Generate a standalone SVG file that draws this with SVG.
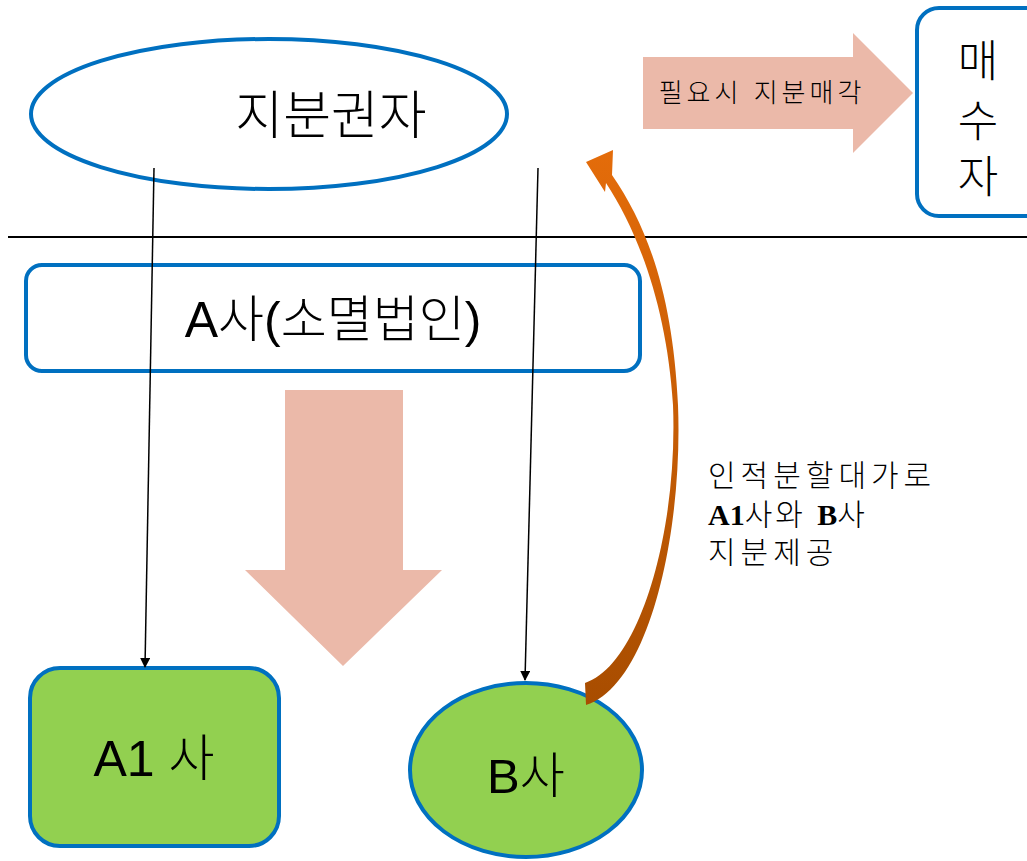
<svg xmlns="http://www.w3.org/2000/svg" width="1027" height="861" viewBox="0 0 1027 861">
<style>
.t{font-family:"Liberation Sans","Noto Sans CJK KR",sans-serif;fill:#000;font-weight:300;}
.blue{stroke:#0070C0;stroke-width:4;}
.pink{fill:#EBB9A9;}
.ln{stroke:#000;stroke-width:1.5;fill:none;}
</style>
<defs>
<marker id="ah" markerWidth="10" markerHeight="10" refX="9" refY="5" orient="auto" markerUnits="userSpaceOnUse">
<path d="M0,0 L10,5 L0,10 Z" fill="#000"/>
</marker>
<linearGradient id="og" x1="0" y1="0" x2="0" y2="1">
<stop offset="0" stop-color="#E46C0A"/>
<stop offset="1" stop-color="#A84D00"/>
</linearGradient>
</defs>
<rect width="1027" height="861" fill="#fff"/>
<line x1="8" y1="237" x2="1027" y2="237" stroke="#000" stroke-width="2"/>
<g id="holder">
<ellipse cx="269" cy="114" rx="238" ry="75" fill="#fff" class="blue"/>
<text class="t" x="331" y="134" font-size="52" text-anchor="middle">지분권자</text>
</g>
<g id="sell-arrow">
<path class="pink" d="M643,57 L853,57 L853,33 L913,93 L853,153 L853,129 L643,129 Z"/>
<text class="t" x="762" y="102" font-size="26" letter-spacing="4" text-anchor="middle">필요시 지분매각</text>
</g>
<g id="buyer">
<rect x="917" y="8" width="130" height="208" rx="22" fill="#fff" class="blue"/>
<text class="t" x="978" y="77" font-size="44" text-anchor="middle">매</text>
<text class="t" x="978" y="137" font-size="44" text-anchor="middle">수</text>
<text class="t" x="978" y="193" font-size="44" text-anchor="middle">자</text>
</g>
<g id="companyA">
<rect x="26" y="265" width="614" height="106" rx="16" fill="#fff" class="blue"/>
<text class="t" x="333" y="337" font-size="50" text-anchor="middle">A사(소멸법인)</text>
</g>
<g id="split-arrow">
<path class="pink" d="M285,390 L403,390 L403,570 L442,570 L343,666 L245,570 L285,570 Z"/>
</g>
<g id="A1">
<rect x="30" y="668" width="249" height="178" rx="30" fill="#92D050" class="blue"/>
<text class="t" x="154" y="776" font-size="50" text-anchor="middle">A1 사</text>
</g>
<g id="B">
<ellipse cx="526" cy="770" rx="116" ry="87" fill="#92D050" class="blue"/>
<text class="t" x="526" y="793" font-size="49" text-anchor="middle">B사</text>
</g>
<g id="connectors">
<line class="ln" x1="154" y1="168" x2="145" y2="667" marker-end="url(#ah)"/>
<line class="ln" x1="538" y1="168" x2="525" y2="680" marker-end="url(#ah)"/>
<path fill="url(#og)" d="M586,705 C650,685 683,530 678,405 C673,300 650,230 612,175 L613,150 L586,162 L605,192 L606,183 C640,235 667,310 673,405 C678,530 640,665 585,683 Z"/>
</g>
<g id="label">
<text class="t" x="708" y="486" font-size="30" letter-spacing="5">인적분할대가로</text>
<text x="708" y="525" font-size="30"><tspan font-family="Liberation Serif,serif" font-weight="bold">A1</tspan><tspan class="t" letter-spacing="3">사와 </tspan><tspan font-family="Liberation Serif,serif" font-weight="bold">B</tspan><tspan class="t">사</tspan></text>
<text class="t" x="708" y="563" font-size="30" letter-spacing="5">지분제공</text>
</g>
</svg>
